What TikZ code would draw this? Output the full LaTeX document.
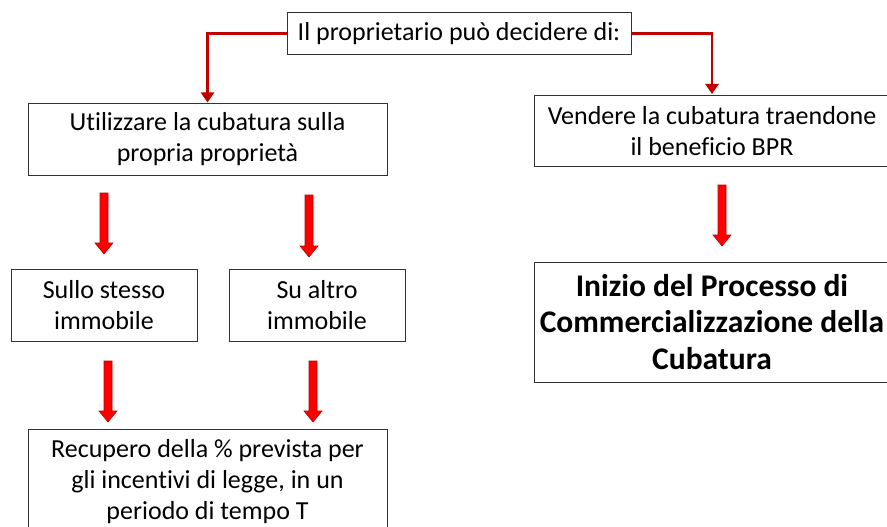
\documentclass[tikz,border=0pt]{standalone}
\usepackage{fontspec}
\setmainfont{Carlito}[Ligatures={NoCommon}]
\usetikzlibrary{arrows.meta,calc}
\definecolor{connred}{RGB}{192,0,0}
\definecolor{blkred}{RGB}{255,0,0}
\definecolor{blkedge}{RGB}{190,0,0}
\newcommand\blkarrow[2]{\path[blk] ($(#1)+(-4,0)$) -- ($(#2)+(-4,-11)$) -- ($(#2)+(-9,-11)$) -- (#2) -- ($(#2)+(9,-11)$) -- ($(#2)+(4,-11)$) -- ($(#1)+(4,0)$) -- cycle;}
\begin{document}
\begin{tikzpicture}[x=1pt,y=-1pt,
  box/.style={draw=black!80, line width=1pt, fill=white, align=center, inner sep=0pt, font=\fontsize{26}{31}\selectfont},
  bigbox/.style={box, font=\fontsize{31.5}{36.5}\selectfont\bfseries},
  conn/.style={draw=connred, line width=2.6pt, -{Triangle[width=13pt,length=10pt]}, shorten >=1pt},
  blk/.style={fill=blkred, draw=blkedge, line width=0.6pt}]
\useasboundingbox (0,0) rectangle (887,527);
\clip (0,0) rectangle (887,527);
\fill[white] (0,0) rectangle (887,527);
% boxes
\node[box, minimum width=344pt, minimum height=42pt] (top) at (459,33.5) {Il proprietario può decidere di:};
\node[box, minimum width=359pt, minimum height=71pt] (util) at (207.5,139.5) {Utilizzare la cubatura sulla\\propria proprietà};
\node[box, minimum width=356pt, minimum height=71pt] (vend) at (712,131) {Vendere la cubatura traendone\\il beneficio BPR};
\node[box, minimum width=186pt, minimum height=72pt] (stesso) at (104,305) {Sullo stesso\\immobile};
\node[box, minimum width=176pt, minimum height=72pt] (altro) at (317,305) {Su altro\\immobile};
\node[bigbox, minimum width=356pt, minimum height=120pt] (inizio) at (712,322) {Inizio del Processo di\\Commercializzazione della\\Cubatura};
\node[box, minimum width=359pt, minimum height=104pt] (recup) at (207.5,481.5) {Recupero della \% prevista per\\gli incentivi di legge, in un\\periodo di tempo T};
% connectors
\draw[conn] (top.west) -| (util.north);
\draw[conn] (top.east) -| (vend.north);
% block arrows
\coordinate (a1s) at (104,193); \coordinate (a1e) at (104,254);
\coordinate (a2s) at (309,195); \coordinate (a2e) at (309,257);
\coordinate (a3s) at (108,361); \coordinate (a3e) at (108,422);
\coordinate (a4s) at (313,361); \coordinate (a4e) at (313,422);
\coordinate (a5s) at (722,185); \coordinate (a5e) at (722,246);
\blkarrow{a1s}{a1e}
\blkarrow{a2s}{a2e}
\blkarrow{a3s}{a3e}
\blkarrow{a4s}{a4e}
\blkarrow{a5s}{a5e}
\end{tikzpicture}
\end{document}
